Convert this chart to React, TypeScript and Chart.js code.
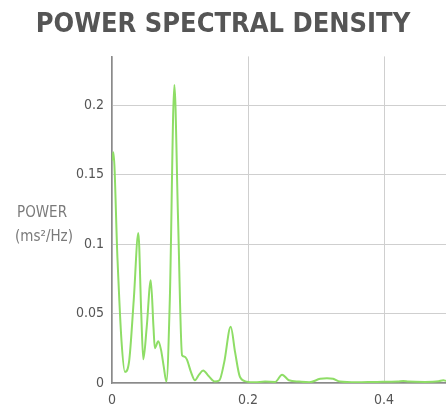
import React, { useEffect, useRef } from "react";
import { Chart, registerables } from "chart.js";

Chart.register(...registerables);

const freq = [0, 0.002, 0.008, 0.014, 0.019, 0.025, 0.032, 0.0387, 0.043, 0.046, 0.051, 0.057, 0.061, 0.063, 0.068, 0.072, 0.076, 0.080, 0.085, 0.0917, 0.097, 0.103, 0.106, 0.110, 0.116, 0.122, 0.128, 0.134, 0.142, 0.151, 0.158, 0.165, 0.1745, 0.181, 0.188, 0.198, 0.21, 0.225, 0.24, 0.25, 0.26, 0.275, 0.29, 0.306, 0.316, 0.325, 0.335, 0.36, 0.39, 0.42, 0.428, 0.436, 0.46, 0.48, 0.487, 0.491];
const power = [0.16, 0.166, 0.09, 0.03, 0.008, 0.015, 0.06, 0.108, 0.05, 0.017, 0.04, 0.074, 0.04, 0.025, 0.03, 0.024, 0.012, 0.001, 0.06, 0.2145, 0.12, 0.02, 0.019, 0.017, 0.008, 0.002, 0.006, 0.009, 0.005, 0.001, 0.002, 0.015, 0.0405, 0.022, 0.0045, 0.001, 0.0005, 0.001, 0.0008, 0.006, 0.002, 0.001, 0.0005, 0.003, 0.0035, 0.003, 0.001, 0.0005, 0.0008, 0.001, 0.0015, 0.001, 0.0008, 0.0012, 0.002, 0.0015];
const xTicks = [0, 0.2, 0.4];
const yTicks = [0, 0.05, 0.1, 0.15, 0.2];
const yTickLabels = ["0", "0.05", "0.1", "0.15", "0.2"];
const titleText = "POWER SPECTRAL DENSITY";
const yLabelLines = ["POWER", "(ms²/Hz)"];

const FONT = "'DejaVu Sans Condensed', 'DejaVu Sans', sans-serif";

export default function App() {
  const ref = useRef<HTMLCanvasElement | null>(null);
  useEffect(() => {
    if (!ref.current) return;
    const yLabelPlugin = {
      id: "yLabel",
      afterDraw(chart: any) {
        const ctx = chart.ctx;
        const ys = chart.scales.y;
        const yMid = ys.getPixelForValue(0.1);
        ctx.save();
        ctx.fillStyle = "#7a7a7a";
        ctx.font = `15px ${FONT}`;
        ctx.textAlign = "center";
        ctx.textBaseline = "middle";
        ctx.fillText(yLabelLines[0], 42, yMid - 31);
        ctx.fillText(yLabelLines[1], 44, yMid - 7);
        ctx.restore();
      },
    };
    const chart = new Chart(ref.current, {
      type: "line",
      data: {
        datasets: [
          {
            data: freq.map((f, i) => ({ x: f, y: power[i] })),
            borderColor: "#8edd66",
            borderWidth: 2,
            pointRadius: 0,
            fill: false,
            cubicInterpolationMode: "monotone",
          },
        ],
      },
      options: {
        animation: false,
        responsive: false,
        maintainAspectRatio: false,
        layout: { padding: { left: 0, right: 0, top: 0, bottom: 0 } },
        plugins: {
          legend: { display: false },
          tooltip: { enabled: false },
          title: {
            display: true,
            text: titleText,
            color: "#555",
            font: { family: FONT, size: 27, weight: "bold" },
            padding: { top: 9, bottom: 15 },
          },
        },
        scales: {
          x: {
            type: "linear",
            min: 0,
            max: 0.491,
            afterBuildTicks: (s: any) => {
              s.ticks = xTicks.map((v) => ({ value: v }));
            },
            afterFit: (s: any) => {
              s.height = 33;
            },
            ticks: {
              color: "#555",
              font: { family: FONT, size: 14 },
              padding: 9,
              maxRotation: 0,
              callback: (v: any) => String(v),
            },
            grid: { color: "#cfcfcf", drawTicks: false, lineWidth: 1 },
            border: { color: "#8a8a8a", width: 1.5 },
          },
          y: {
            min: 0,
            max: 0.235,
            afterBuildTicks: (s: any) => {
              s.ticks = yTicks.map((v) => ({ value: v }));
            },
            afterFit: (s: any) => {
              s.width = 112;
            },
            ticks: {
              color: "#555",
              font: { family: FONT, size: 14 },
              padding: 8,
              callback: (v: any) => {
                const i = yTicks.indexOf(v);
                return i >= 0 ? yTickLabels[i] : "";
              },
            },
            grid: { color: "#cfcfcf", drawTicks: false, lineWidth: 1 },
            border: { color: "#8a8a8a", width: 1.5 },
          },
        },
      },
      plugins: [yLabelPlugin],
    } as any);
    return () => chart.destroy();
  }, []);
  return (
    <div style={{ position: "fixed", left: 0, top: 0, width: 446, height: 416, background: "#fff" }}>
      <canvas ref={ref} width={446} height={416} style={{ width: 446, height: 416 }} />
    </div>
  );
}
